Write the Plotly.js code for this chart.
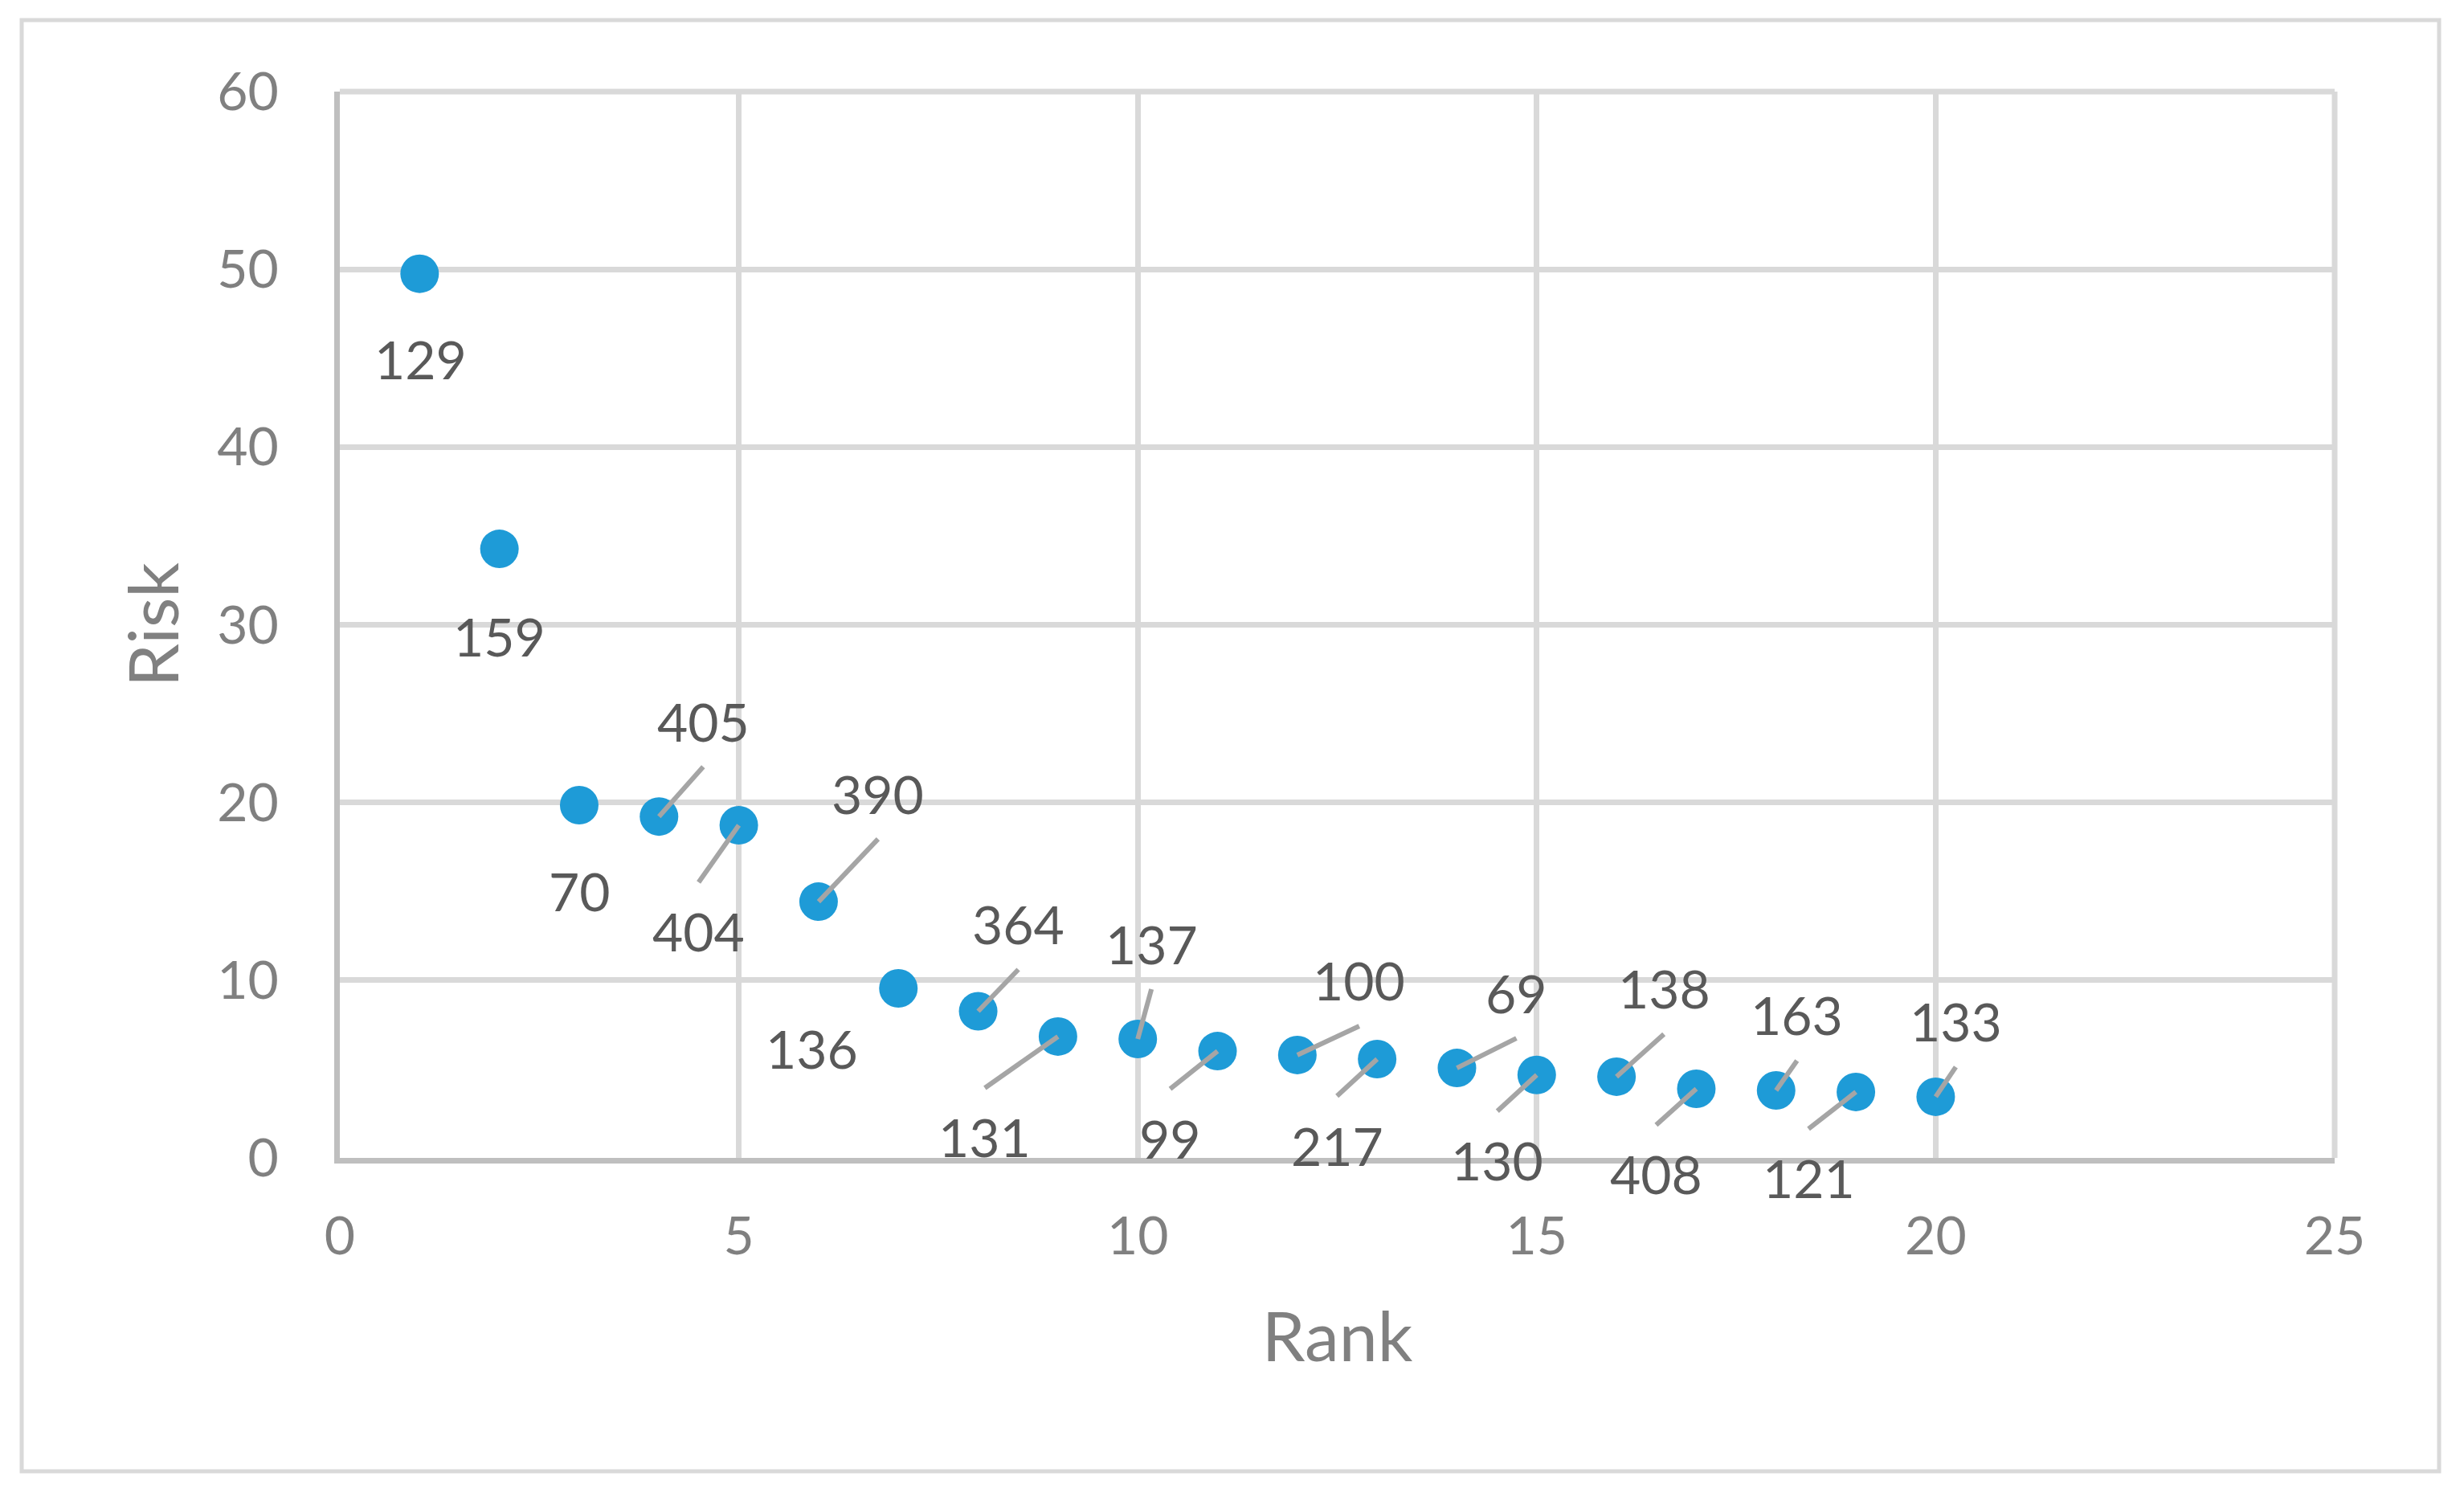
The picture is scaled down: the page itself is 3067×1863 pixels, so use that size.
<!DOCTYPE html>
<html>
<head>
<meta charset="utf-8">
<script src="https://cdn.plot.ly/plotly-3.0.1.min.js"></script>
<style>
  html, body { margin: 0; padding: 0; background: #ffffff; }
  #chart { width: 3067px; height: 1863px; }
</style>
</head>
<body>
<div id="chart"></div>
<script>
// ---- data ----
const ranks = [1, 2, 3, 4, 5, 6, 7, 8, 9, 10, 11, 12, 13, 14, 15, 16, 17, 18, 19, 20];
const risk = [49.75, 34.27, 19.85, 19.21, 18.72, 14.42, 9.54, 8.25, 6.83, 6.69,
              6.01, 5.79, 5.56, 5.06, 4.67, 4.57, 3.89, 3.80, 3.71, 3.44];
const pointIds = ['129', '159', '70', '405', '404', '390', '136', '364', '131', '137',
                  '99', '100', '217', '69', '130', '138', '408', '163', '121', '133'];

// ---- label placement (pixels, relative to the point; +down) ----
const labelDx = [1, 0, 1, 55, -50, 74, -108, 50, -91, 17, -59, 77, -50, 74, -49, 59, -50, 26, -59, 25];
const labelDy = [106, 108, 107, -119, 132, -135, 74, -109, 125, -119, 108, -93, 107, -94, 106, -110, 106, -94, 107, -94];
const hasLeader = [false, false, false, true, true, true, false, true, true, true,
                   true, true, true, true, true, true, true, true, true, true];

// ---- geometry ----
const W = 3067, H = 1863;
const plotL = 423, plotR = 2906, plotT = 114, plotB = 1441;
const frame = {l: 27, r: 3036, t: 25, b: 1831};
const pw = plotR - plotL, ph = plotB - plotT;

const fontFam = 'Lato, "Open Sans", "Noto Sans", sans-serif';

const annotations = [];
const shapes = [];

// outer chart-area border
shapes.push({
  type: 'rect', xref: 'paper', yref: 'paper', layer: 'below',
  x0: (frame.l - plotL) / pw, x1: (frame.r - plotL) / pw,
  y0: (plotB - frame.b) / ph, y1: (plotB - frame.t) / ph,
  line: {color: '#d9d9d9', width: 5}, fillcolor: 'rgba(0,0,0,0)'
});
// top and right edges of the plot area (light gridline colour)
shapes.push({
  type: 'line', xref: 'paper', yref: 'paper', layer: 'below',
  x0: 0, x1: 1, y0: 1, y1: 1, line: {color: '#d9d9d9', width: 7}
});
shapes.push({
  type: 'line', xref: 'paper', yref: 'paper', layer: 'below',
  x0: 1, x1: 1, y0: 0, y1: 1, line: {color: '#d9d9d9', width: 7}
});

for (let i = 0; i < ranks.length; i++) {
  annotations.push({
    x: ranks[i], y: risk[i], xref: 'x', yref: 'y',
    text: pointIds[i], showarrow: false,
    xshift: labelDx[i], yshift: -labelDy[i],
    xanchor: 'center', yanchor: 'middle',
    font: {family: fontFam, size: 66, color: '#595959'}
  });
  if (hasLeader[i]) {
    const sdy = labelDy[i] < 0 ? labelDy[i] + 57 : labelDy[i] - 61;
    shapes.push({
      type: 'line', layer: 'above',
      xref: 'x', yref: 'y', xsizemode: 'pixel', ysizemode: 'pixel',
      xanchor: ranks[i], yanchor: risk[i],
      x0: labelDx[i], y0: -sdy, x1: 0, y1: 0,
      line: {color: '#a5a5a5', width: 6}
    });
  }
}

const trace = {
  type: 'scatter', mode: 'markers',
  x: ranks, y: risk,
  marker: {size: 48, color: '#1e9bd7', line: {width: 0}},
  hoverinfo: 'skip', showlegend: false
};

const axisCommon = {
  showgrid: true, gridcolor: '#d9d9d9', gridwidth: 7,
  showline: true, linecolor: '#bfbfbf', linewidth: 7,
  zeroline: false, ticks: '', automargin: false,
  tickfont: {family: fontFam, size: 66, color: '#808080'}
};

const layout = {
  width: W, height: H,
  margin: {l: plotL, r: W - plotR, t: plotT, b: H - plotB, pad: 0},
  paper_bgcolor: '#ffffff', plot_bgcolor: '#ffffff',
  showlegend: false,
  xaxis: Object.assign({}, axisCommon, {
    range: [0, 25], tick0: 0, dtick: 5, ticklabelstandoff: 34,
    title: {text: 'Rank', font: {family: fontFam, size: 86, color: '#808080'}, standoff: 62}
  }),
  yaxis: Object.assign({}, axisCommon, {
    range: [0, 60], tick0: 0, dtick: 10, ticklabelstandoff: 56,
    title: {text: 'Risk', font: {family: fontFam, size: 86, color: '#808080'}, standoff: 22}
  }),
  annotations: annotations,
  shapes: shapes
};

Plotly.newPlot('chart', [trace], layout, {displayModeBar: false, staticPlot: true});
</script>
</body>
</html>
